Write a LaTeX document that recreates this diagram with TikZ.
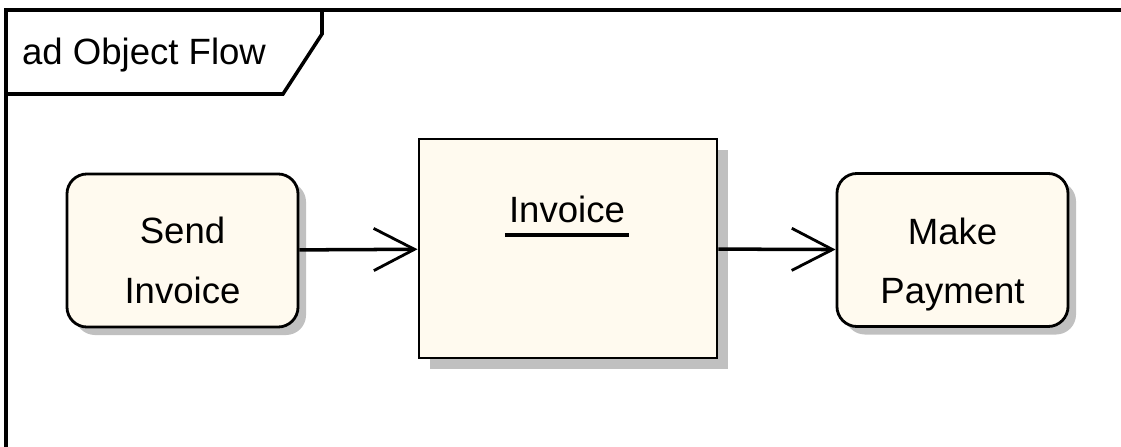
\documentclass[tikz,border=0pt]{standalone}
\usepackage{fontspec}
\setmainfont{Liberation Sans}
\usetikzlibrary{arrows.meta,shadows}

\definecolor{actfill}{RGB}{255,250,239}
\definecolor{shadowgray}{RGB}{192,192,192}

\begin{document}
\begin{tikzpicture}[x=0.025cm, y=-0.025cm, line width=2pt,
    every node/.style={font=\fontsize{26}{42}\selectfont},
    action/.style={draw, fill=actfill, rounded corners=0.5cm, align=center,
        minimum width=5.775cm, minimum height=3.825cm,
        drop shadow={shadow xshift=0.2cm, shadow yshift=-0.2cm, fill=shadowgray, opacity=1}},
    object/.style={draw, fill=actfill, minimum width=7.45cm, minimum height=5.475cm,
        drop shadow={shadow xshift=0.28cm, shadow yshift=-0.28cm, fill=shadowgray, opacity=1}},
    flow/.style={line width=2.5pt, -{Straight Barb[length=29pt, width=30pt, line width=2pt]}}]
    \useasboundingbox (0,0) rectangle (1121,447);

    % 外框和标题栏
    \draw[line width=3pt] (6,447) -- (6,10) -- (1121,10);
    \draw[line width=2.5pt] (6,94) -- (283,94) -- (322,34) -- (322,10);
    \node[anchor=base west] (title) at (16,64) {ad Object Flow};

    % 活动和对象 (第一行空行让文字往下一点)
    \node[action] (send) at (182.5,250.5) {\mbox{}\\[-9pt]Send\\Invoice};
    \node[object] (invoice) at (568,248.5) {};
    \node[anchor=base, inner xsep=2pt] (objname) at (567,222) {Invoice};
    \draw[line width=3pt] ([yshift=-9pt]objname.base west) -- ([yshift=-9pt]objname.base east);
    \node[action] (pay) at (952.5,250) {\mbox{}\\[-3pt]Make\\Payment};

    % 对象流
    \draw[flow] (send) -- (invoice);
    \draw[flow] (invoice) -- (pay);
\end{tikzpicture}
\end{document}
